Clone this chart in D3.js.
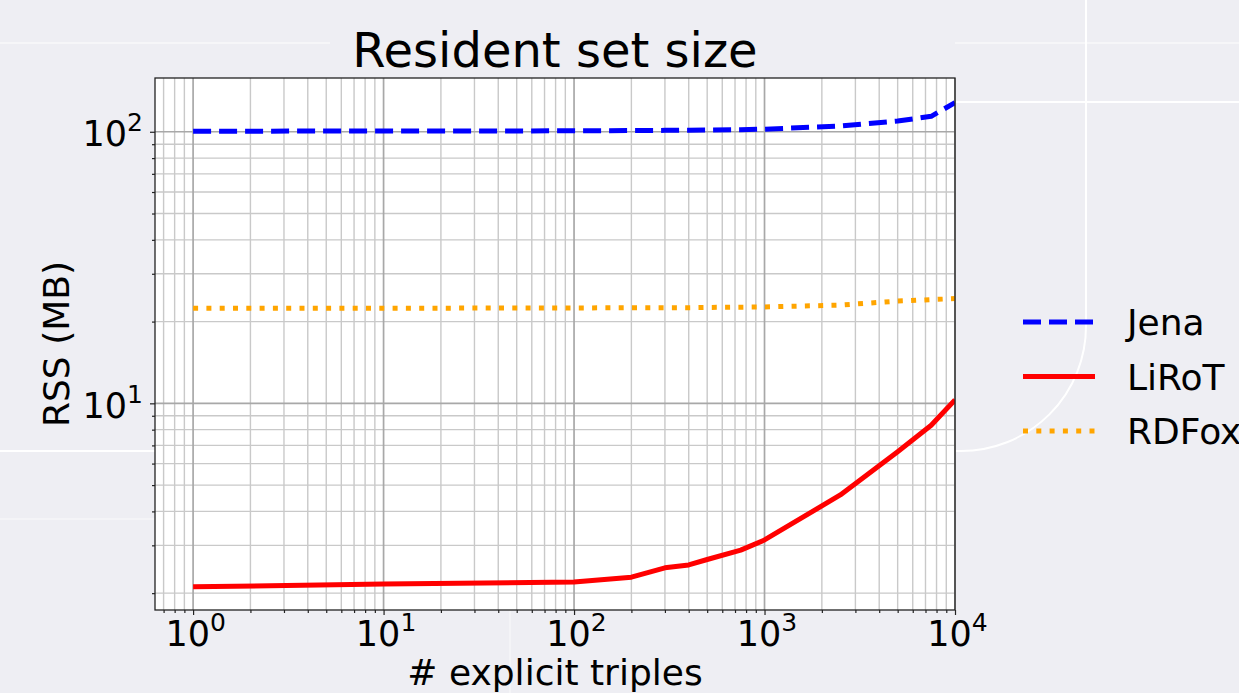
<!DOCTYPE html>
<html>
<head>
<meta charset="utf-8">
<script src="https://cdn.jsdelivr.net/npm/d3@7"></script>
<style>
  html, body { margin: 0; padding: 0; background: #eeeef3; }
  #chartPlaceholder { width: 1239px; height: 693px; }
  text { font-family: "DejaVu Sans", sans-serif; fill: #000; }
</style>
</head>
<body>
<div id="chartPlaceholder"></div>
<script>
const triples = [1, 10, 100, 200, 300, 400, 500, 750, 1000, 2500, 5000, 7500, 10000];
const jenaRss = [100.5, 100.6, 100.8, 101, 101.2, 101.4, 101.5, 101.8, 102.2, 105, 109.5, 114, 128];
const lirotRss = [2.11, 2.16, 2.2, 2.29, 2.48, 2.54, 2.66, 2.88, 3.14, 4.6, 6.64, 8.3, 10.3];
const rdfoxRss = [22.4, 22.4, 22.45, 22.5, 22.5, 22.5, 22.55, 22.6, 22.65, 23.0, 23.8, 24.1, 24.3];
const seriesNames = ["Jena", "LiRoT", "RDFox"];
const xDecades = [0, 1, 2, 3, 4];
const yDecades = [1, 2];

const series = [
  { name: seriesNames[0], values: jenaRss, color: "#0000ff", dash: "18,8" },
  { name: seriesNames[1], values: lirotRss, color: "#ff0000", dash: null },
  { name: seriesNames[2], values: rdfoxRss, color: "#ffa500", dash: "5,8.3" },
];

const width = 1239, height = 693;
const margin = { top: 78, right: 284, bottom: 83, left: 155 };

const svg = d3
  .select("#chartPlaceholder")
  .append("svg")
  .attr("width", width)
  .attr("height", height);

// faint background strokes
const deco = svg.append("g").attr("fill", "none").attr("stroke", "#ffffff");
deco.append("path").attr("d", "M0,43H330").attr("stroke-width", 1.5).attr("opacity", 0.6);
deco.append("path").attr("d", "M955,43H1239").attr("stroke-width", 1.5).attr("opacity", 0.6);
deco.append("path").attr("d", "M955,102H1239").attr("stroke-width", 2);
deco.append("path").attr("d", "M1086,0V326A125,125 0 0 1 961,451H0").attr("stroke-width", 2);
deco.append("path").attr("d", "M0,519H160").attr("stroke-width", 1.5).attr("opacity", 0.5);
deco.append("path").attr("d", "M510,610V693").attr("stroke-width", 1.5).attr("opacity", 0.5);

const x = d3
  .scaleLog()
  .domain([Math.pow(10, -0.2), 1e4])
  .range([margin.left, width - margin.right]);
const y = d3
  .scaleLog()
  .domain([Math.pow(10, 0.239), Math.pow(10, 2.198)])
  .range([height - margin.bottom, margin.top]);

const [x0, x1] = x.range();
const [y0, y1] = y.range();

svg.append("rect")
  .attr("x", x0).attr("y", y1)
  .attr("width", x1 - x0).attr("height", y0 - y1)
  .attr("fill", "#ffffff");

const xMajor = xDecades.map((d) => Math.pow(10, d));
const yMajor = yDecades.map((d) => Math.pow(10, d));
const isMajor = (v) => Math.abs(Math.log10(v) - Math.round(Math.log10(v))) < 1e-9;
const xMinor = x.ticks().filter((v) => !isMajor(v));
const yMinor = y.ticks().filter((v) => !isMajor(v));

// grid
const grid = svg.append("g");
grid.selectAll(".vminor").data(xMinor).join("line")
  .attr("x1", (d) => x(d)).attr("x2", (d) => x(d))
  .attr("y1", y0).attr("y2", y1)
  .attr("stroke", "#c9c9c9").attr("stroke-width", 1.4);
grid.selectAll(".hminor").data(yMinor).join("line")
  .attr("y1", (d) => y(d)).attr("y2", (d) => y(d))
  .attr("x1", x0).attr("x2", x1)
  .attr("stroke", "#c9c9c9").attr("stroke-width", 1.4);
grid.selectAll(".vmajor").data(xMajor).join("line")
  .attr("x1", (d) => x(d)).attr("x2", (d) => x(d))
  .attr("y1", y0).attr("y2", y1)
  .attr("stroke", "#a8a8a8").attr("stroke-width", 1.7);
grid.selectAll(".hmajor").data(yMajor).join("line")
  .attr("y1", (d) => y(d)).attr("y2", (d) => y(d))
  .attr("x1", x0).attr("x2", x1)
  .attr("stroke", "#a8a8a8").attr("stroke-width", 1.7);

// lines
svg.append("clipPath").attr("id", "plotClip")
  .append("rect")
  .attr("x", x0).attr("y", y1)
  .attr("width", x1 - x0).attr("height", y0 - y1);

const line = d3.line()
  .x((d) => x(d[0]))
  .y((d) => y(d[1]));

svg.append("g")
  .attr("clip-path", "url(#plotClip)")
  .selectAll("path")
  .data(series)
  .join("path")
  .attr("d", (s) => line(triples.map((t, i) => [t, s.values[i]])))
  .attr("fill", "none")
  .attr("stroke", (s) => s.color)
  .attr("stroke-width", 5)
  .attr("stroke-linejoin", "round")
  .attr("stroke-dasharray", (s) => s.dash);

// axes
function styleAxis(g) {
  g.select(".domain").remove();
  g.selectAll(".tick line").attr("stroke", "#222").attr("stroke-width", 1.2);
}

svg.append("g")
  .attr("transform", `translate(0, ${y0})`)
  .call(d3.axisBottom(x).tickValues(xMinor).tickSize(3).tickFormat(""))
  .call(styleAxis);
const xAxis = svg.append("g")
  .attr("transform", `translate(0, ${y0})`)
  .call(d3.axisBottom(x).tickValues(xMajor).tickSize(5).tickFormat(""))
  .call(styleAxis);

svg.append("g")
  .attr("transform", `translate(${x0}, 0)`)
  .call(d3.axisLeft(y).tickValues(yMinor).tickSize(3).tickFormat(""))
  .call(styleAxis);
const yAxis = svg.append("g")
  .attr("transform", `translate(${x0}, 0)`)
  .call(d3.axisLeft(y).tickValues(yMajor).tickSize(5).tickFormat(""))
  .call(styleAxis);

function powLabel(sel) {
  sel.each(function (d) {
    const t = d3.select(this);
    t.append("tspan").text("10");
    t.append("tspan")
      .attr("dy", -15)
      .attr("font-size", 25)
      .text(Math.round(Math.log10(d)));
  });
}

xAxis.selectAll(".tick").append("text")
  .attr("y", 36)
  .attr("font-size", 35)
  .attr("text-anchor", "middle")
  .attr("x", 2)
  .call(powLabel);

yAxis.selectAll(".tick").append("text")
  .attr("x", -12)
  .attr("y", 14)
  .attr("font-size", 35)
  .attr("text-anchor", "end")
  .call(powLabel);

// frame
svg.append("rect")
  .attr("x", x0).attr("y", y1)
  .attr("width", x1 - x0).attr("height", y0 - y1)
  .attr("fill", "none")
  .attr("stroke", "#222")
  .attr("stroke-width", 1.3);

// titles
svg.append("text")
  .attr("x", (x0 + x1) / 2)
  .attr("y", 67)
  .attr("text-anchor", "middle")
  .attr("font-size", 48)
  .text("Resident set size");

svg.append("text")
  .attr("x", (x0 + x1) / 2)
  .attr("y", 685)
  .attr("text-anchor", "middle")
  .attr("font-size", 36)
  .text("# explicit triples");

svg.append("text")
  .attr("transform", `translate(69, ${(y0 + y1) / 2}) rotate(-90)`)
  .attr("text-anchor", "middle")
  .attr("font-size", 36)
  .text("RSS (MB)");

// legend
const legend = svg.append("g").attr("transform", "translate(1023, 322)");
const item = legend.selectAll("g")
  .data(series)
  .join("g")
  .attr("transform", (s, i) => `translate(0, ${i * 54.5})`);
item.append("line")
  .attr("x1", 0).attr("x2", 72)
  .attr("stroke", (s) => s.color)
  .attr("stroke-width", 5)
  .attr("stroke-dasharray", (s) => s.dash);
item.append("text")
  .attr("x", 104)
  .attr("y", 13)
  .attr("font-size", 36)
  .text((s) => s.name);
</script>
</body>
</html>
